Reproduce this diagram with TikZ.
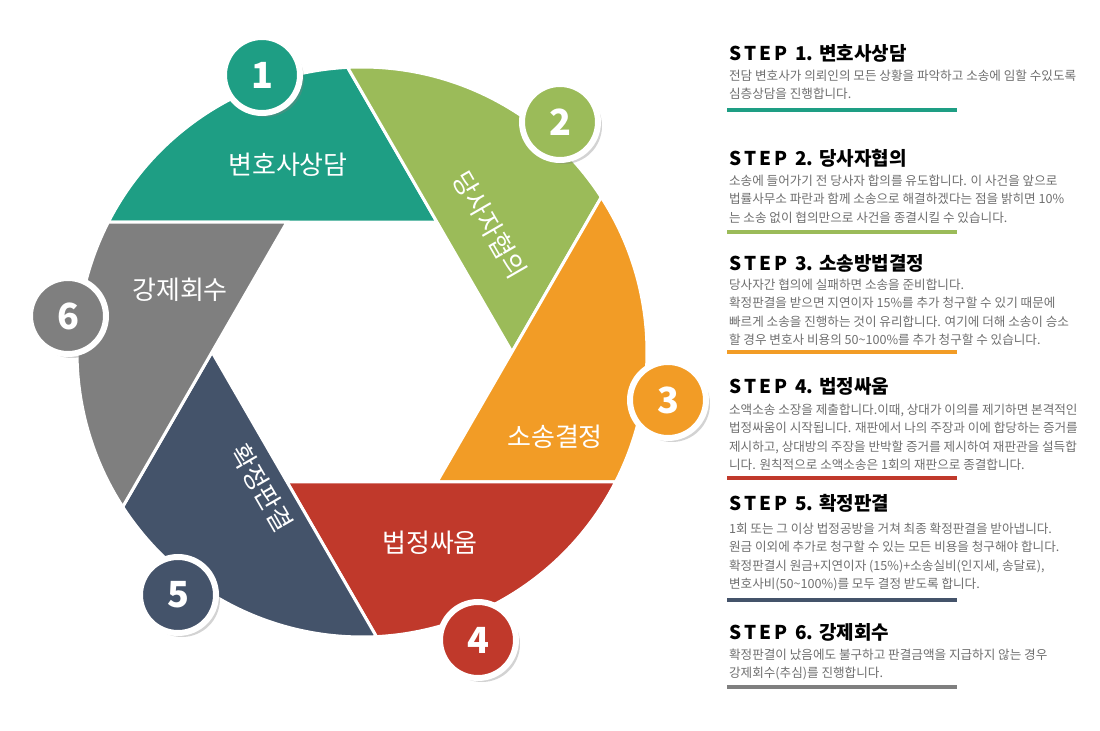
\documentclass[tikz,border=0pt]{standalone}
\usepackage{fontspec}
\setmainfont{Noto Sans CJK KR}
\usetikzlibrary{shadows,calc}

\definecolor{stepteal}{HTML}{1E9E84}
\definecolor{stepgreen}{HTML}{9BBB59}
\definecolor{steporange}{HTML}{F29C26}
\definecolor{stepred}{HTML}{C0392B}
\definecolor{stepnavy}{HTML}{44536A}
\definecolor{stepgray}{HTML}{7F7F7F}
\definecolor{bodygray}{HTML}{6E6E6E}

\tikzset{
  numdot/.style={circle, minimum size=38pt, draw=white, line width=3pt,
    text=white, font=\fontsize{18}{18}\selectfont\bfseries,
    drop shadow={opacity=0.35, shadow xshift=2pt, shadow yshift=-2pt}},
  seglabel/.style={text=white, font=\fontsize{13}{13}\selectfont},
  stephead/.style={anchor=west, font=\fontsize{9.5}{10}\selectfont\bfseries},
  stepbody/.style={anchor=north west, align=left, text=bodygray,
    font=\fontsize{6.3}{9.2}\selectfont},
  stepbar/.style={line width=2pt}
}

\begin{document}
\begin{tikzpicture}[x=0.5pt,y=0.5pt]
\useasboundingbox (0,0) rectangle (1100,730);

\coordinate (O) at (362,378);

% aperture segments
\foreach \k/\col in {0/stepteal,1/stepgreen,2/steporange,3/stepred,4/stepnavy,5/stepgray}{
  \pgfmathsetmacro{\pa}{152.9-60*\k}
  \pgfmathsetmacro{\va}{60-60*\k}
  \pgfmathsetmacro{\pb}{92.9-60*\k}
  \path[fill=\col, draw=white, line width=1.5pt]
    ($(O)+(\pa:285)$) -- ($(O)+(\va:150)$) -- ($(O)+(\pb:285)$)
    arc[start angle=\pb, end angle=\pa, radius=285] -- cycle;
}

% segment labels
\node[seglabel] (lab1) at (288,565) {변호사상담};
\node[seglabel, rotate=-60] (lab2) at (490,505) {당사자협의};
\node[seglabel] (lab3) at (555,293) {소송결정};
\node[seglabel] (lab4) at (430,187) {법정싸움};
\node[seglabel, rotate=-60] (lab5) at (262,242) {확정판결};
\node[seglabel] (lab6) at (180,440) {강제회수};

% number badges
\node[numdot, fill=stepteal] (n1) at (262,655) {1};
\node[numdot, fill=stepgreen] (n2) at (560,608) {2};
\node[numdot, fill=steporange] (n3) at (668,330) {3};
\node[numdot, fill=stepred] (n4) at (478,90) {4};
\node[numdot, fill=stepnavy] (n5) at (178,135) {5};
\node[numdot, fill=stepgray] (n6) at (68,414) {6};

% step texts
\node[stephead] (h1) at (722,677) {S\,T\,E\,P\, 1. 변호사상담};
\node[stepbody] (b1) at (722,667) {전담 변호사가 의뢰인의 모든 상황을 파악하고 소송에 임할 수있도록\\심층상담을 진행합니다.};
\draw[stepbar, stepteal] (727,620) -- (957,620);

\node[stephead] (h2) at (722,572) {S\,T\,E\,P\, 2. 당사자협의};
\node[stepbody] (b2) at (722,562) {소송에 들어가기 전 당사자 합의를 유도합니다. 이 사건을 앞으로\\법률사무소 파란과 함께 소송으로 해결하겠다는 점을 밝히면 10\%\\는 소송 없이 협의만으로 사건을 종결시킬 수 있습니다.};
\draw[stepbar, stepgreen] (727,498) -- (957,498);

\node[stephead] (h3) at (722,467) {S\,T\,E\,P\, 3. 소송방법결정};
\node[stepbody] (b3) at (722,458) {당사자간 협의에 실패하면 소송을 준비합니다.\\확정판결을 받으면 지연이자 15\%를 추가 청구할 수 있기 때문에\\빠르게 소송을 진행하는 것이 유리합니다. 여기에 더해 소송이 승소\\할 경우 변호사 비용의 50\textasciitilde100\%를 추가 청구할 수 있습니다.};
\draw[stepbar, steporange] (727,378) -- (957,378);

\node[stephead] (h4) at (722,344) {S\,T\,E\,P\, 4. 법정싸움};
\node[stepbody] (b4) at (722,333) {소액소송 소장을 제출합니다.이때, 상대가 이의를 제기하면 본격적인\\법정싸움이 시작됩니다. 재판에서 나의 주장과 이에 합당하는 증거를\\제시하고, 상대방의 주장을 반박할 증거를 제시하여 재판관을 설득합\\니다. 원칙적으로 소액소송은 1회의 재판으로 종결합니다.};
\draw[stepbar, stepred] (727,252) -- (957,252);

\node[stephead] (h5) at (722,227) {S\,T\,E\,P\, 5. 확정판결};
\node[stepbody] (b5) at (722,214) {1회 또는 그 이상 법정공방을 거쳐 최종 확정판결을 받아냅니다.\\원금 이외에 추가로 청구할 수 있는 모든 비용을 청구해야 합니다.\\확정판결시 원금+지연이자 (15\%)+소송실비(인지세, 송달료),\\변호사비(50\textasciitilde100\%)를 모두 결정 받도록 합니다.};
\draw[stepbar, stepnavy] (727,130) -- (957,130);

\node[stephead] (h6) at (722,98) {S\,T\,E\,P\, 6. 강제회수};
\node[stepbody] (b6) at (722,88) {확정판결이 났음에도 불구하고 판결금액을 지급하지 않는 경우\\강제회수(추심)를 진행합니다.};
\draw[stepbar, stepgray] (727,43) -- (957,43);

\end{tikzpicture}
\end{document}
